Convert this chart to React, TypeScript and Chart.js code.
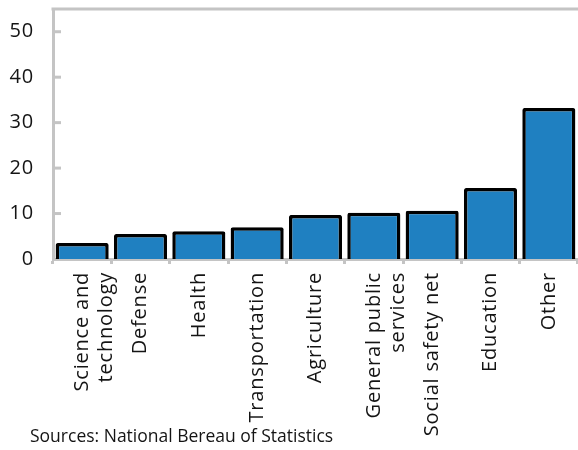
import React, { useEffect, useRef } from "react";
import { Chart, registerables } from "chart.js";

Chart.register(...registerables);

const categories: (string | string[])[] = [
  ["Science and", "technology"],
  "Defense",
  "Health",
  "Transportation",
  "Agriculture",
  ["General public", "services"],
  "Social safety net",
  "Education",
  "Other",
];
const values = [3.5, 5.5, 6.1, 7.0, 9.7, 10.2, 10.6, 15.6, 33.2];
const yTicks = [0, 10, 20, 30, 40, 50];
const sourceNote = "Sources: National Bereau of Statistics";

const FONT = "'Open Sans', sans-serif";
const GRAY = "#c4c4c4";
const TEXT = "#141414";

const spacingPlugin = {
  id: "spacing",
  beforeUpdate(chart: any) {
    chart.ctx.letterSpacing = "0.8px";
  },
  beforeDraw(chart: any) {
    chart.ctx.letterSpacing = "0.8px";
  },
};

const framePlugin = {
  id: "frame",
  afterDraw(chart: any) {
    const { ctx, chartArea } = chart;
    const y = chart.scales.y;
    ctx.save();
    ctx.strokeStyle = GRAY;
    ctx.lineWidth = 3;
    ctx.beginPath();
    ctx.moveTo(chartArea.left - 1.5, chartArea.top);
    ctx.lineTo(chartArea.right, chartArea.top);
    ctx.stroke();
    for (const v of yTicks) {
      if (v === 0) continue;
      const py = y.getPixelForValue(v);
      ctx.beginPath();
      ctx.moveTo(chartArea.left, py);
      ctx.lineTo(chartArea.left + 8, py);
      ctx.stroke();
    }
    ctx.letterSpacing = "0px";
    ctx.fillStyle = TEXT;
    ctx.font = `17.5px ${FONT}`;
    ctx.textBaseline = "middle";
    ctx.textAlign = "left";
    ctx.fillText(sourceNote, 30, 437);
    ctx.restore();
  },
};

export default function App() {
  const ref = useRef<HTMLCanvasElement | null>(null);
  useEffect(() => {
    if (!ref.current) return;
    const chart = new Chart(ref.current, {
      type: "bar",
      data: {
        labels: categories,
        datasets: [
          {
            data: values,
            backgroundColor: "#1f80c1",
            borderColor: "#000000",
            borderWidth: 3.5,
            borderRadius: 2,
            borderSkipped: "start",
            barPercentage: 0.91,
            categoryPercentage: 1,
          },
        ],
      },
      options: {
        responsive: false,
        animation: false,
        layout: { padding: { top: 9, right: 0, bottom: 0, left: 0 } },
        plugins: {
          legend: { display: false },
          tooltip: { enabled: false },
        },
        scales: {
          x: {
            offset: true,
            afterFit(scale: any) {
              scale.height = 191;
              scale.paddingLeft = 0;
              scale.paddingRight = 0;
            },
            grid: {
              display: true,
              drawOnChartArea: false,
              drawTicks: true,
              tickLength: 5,
              color: GRAY,
              lineWidth: 3,
              offset: true,
            },
            border: { display: true, color: GRAY, width: 3 },
            ticks: {
              minRotation: 90,
              maxRotation: 90,
              autoSkip: false,
              color: TEXT,
              font: { family: FONT, size: 20 },
              padding: 8,
            },
          },
          y: {
            min: 0,
            max: 55,
            afterBuildTicks(scale: any) {
              scale.ticks = yTicks.map((v) => ({ value: v }));
            },
            afterFit(scale: any) {
              scale.width = 53;
              scale.paddingTop = 0;
              scale.paddingBottom = 0;
            },
            grid: { display: false, drawTicks: false },
            border: { display: true, color: GRAY, width: 3 },
            ticks: {
              color: TEXT,
              font: { family: FONT, size: 20 },
              padding: 19,
            },
          },
        },
      },
      plugins: [spacingPlugin, framePlugin],
    });
    return () => chart.destroy();
  }, []);
  return (
    <div style={{ position: "absolute", left: 0, top: 0, width: 578, height: 450 }}>
      <canvas ref={ref} width={578} height={450} style={{ width: 578, height: 450 }} />
    </div>
  );
}
